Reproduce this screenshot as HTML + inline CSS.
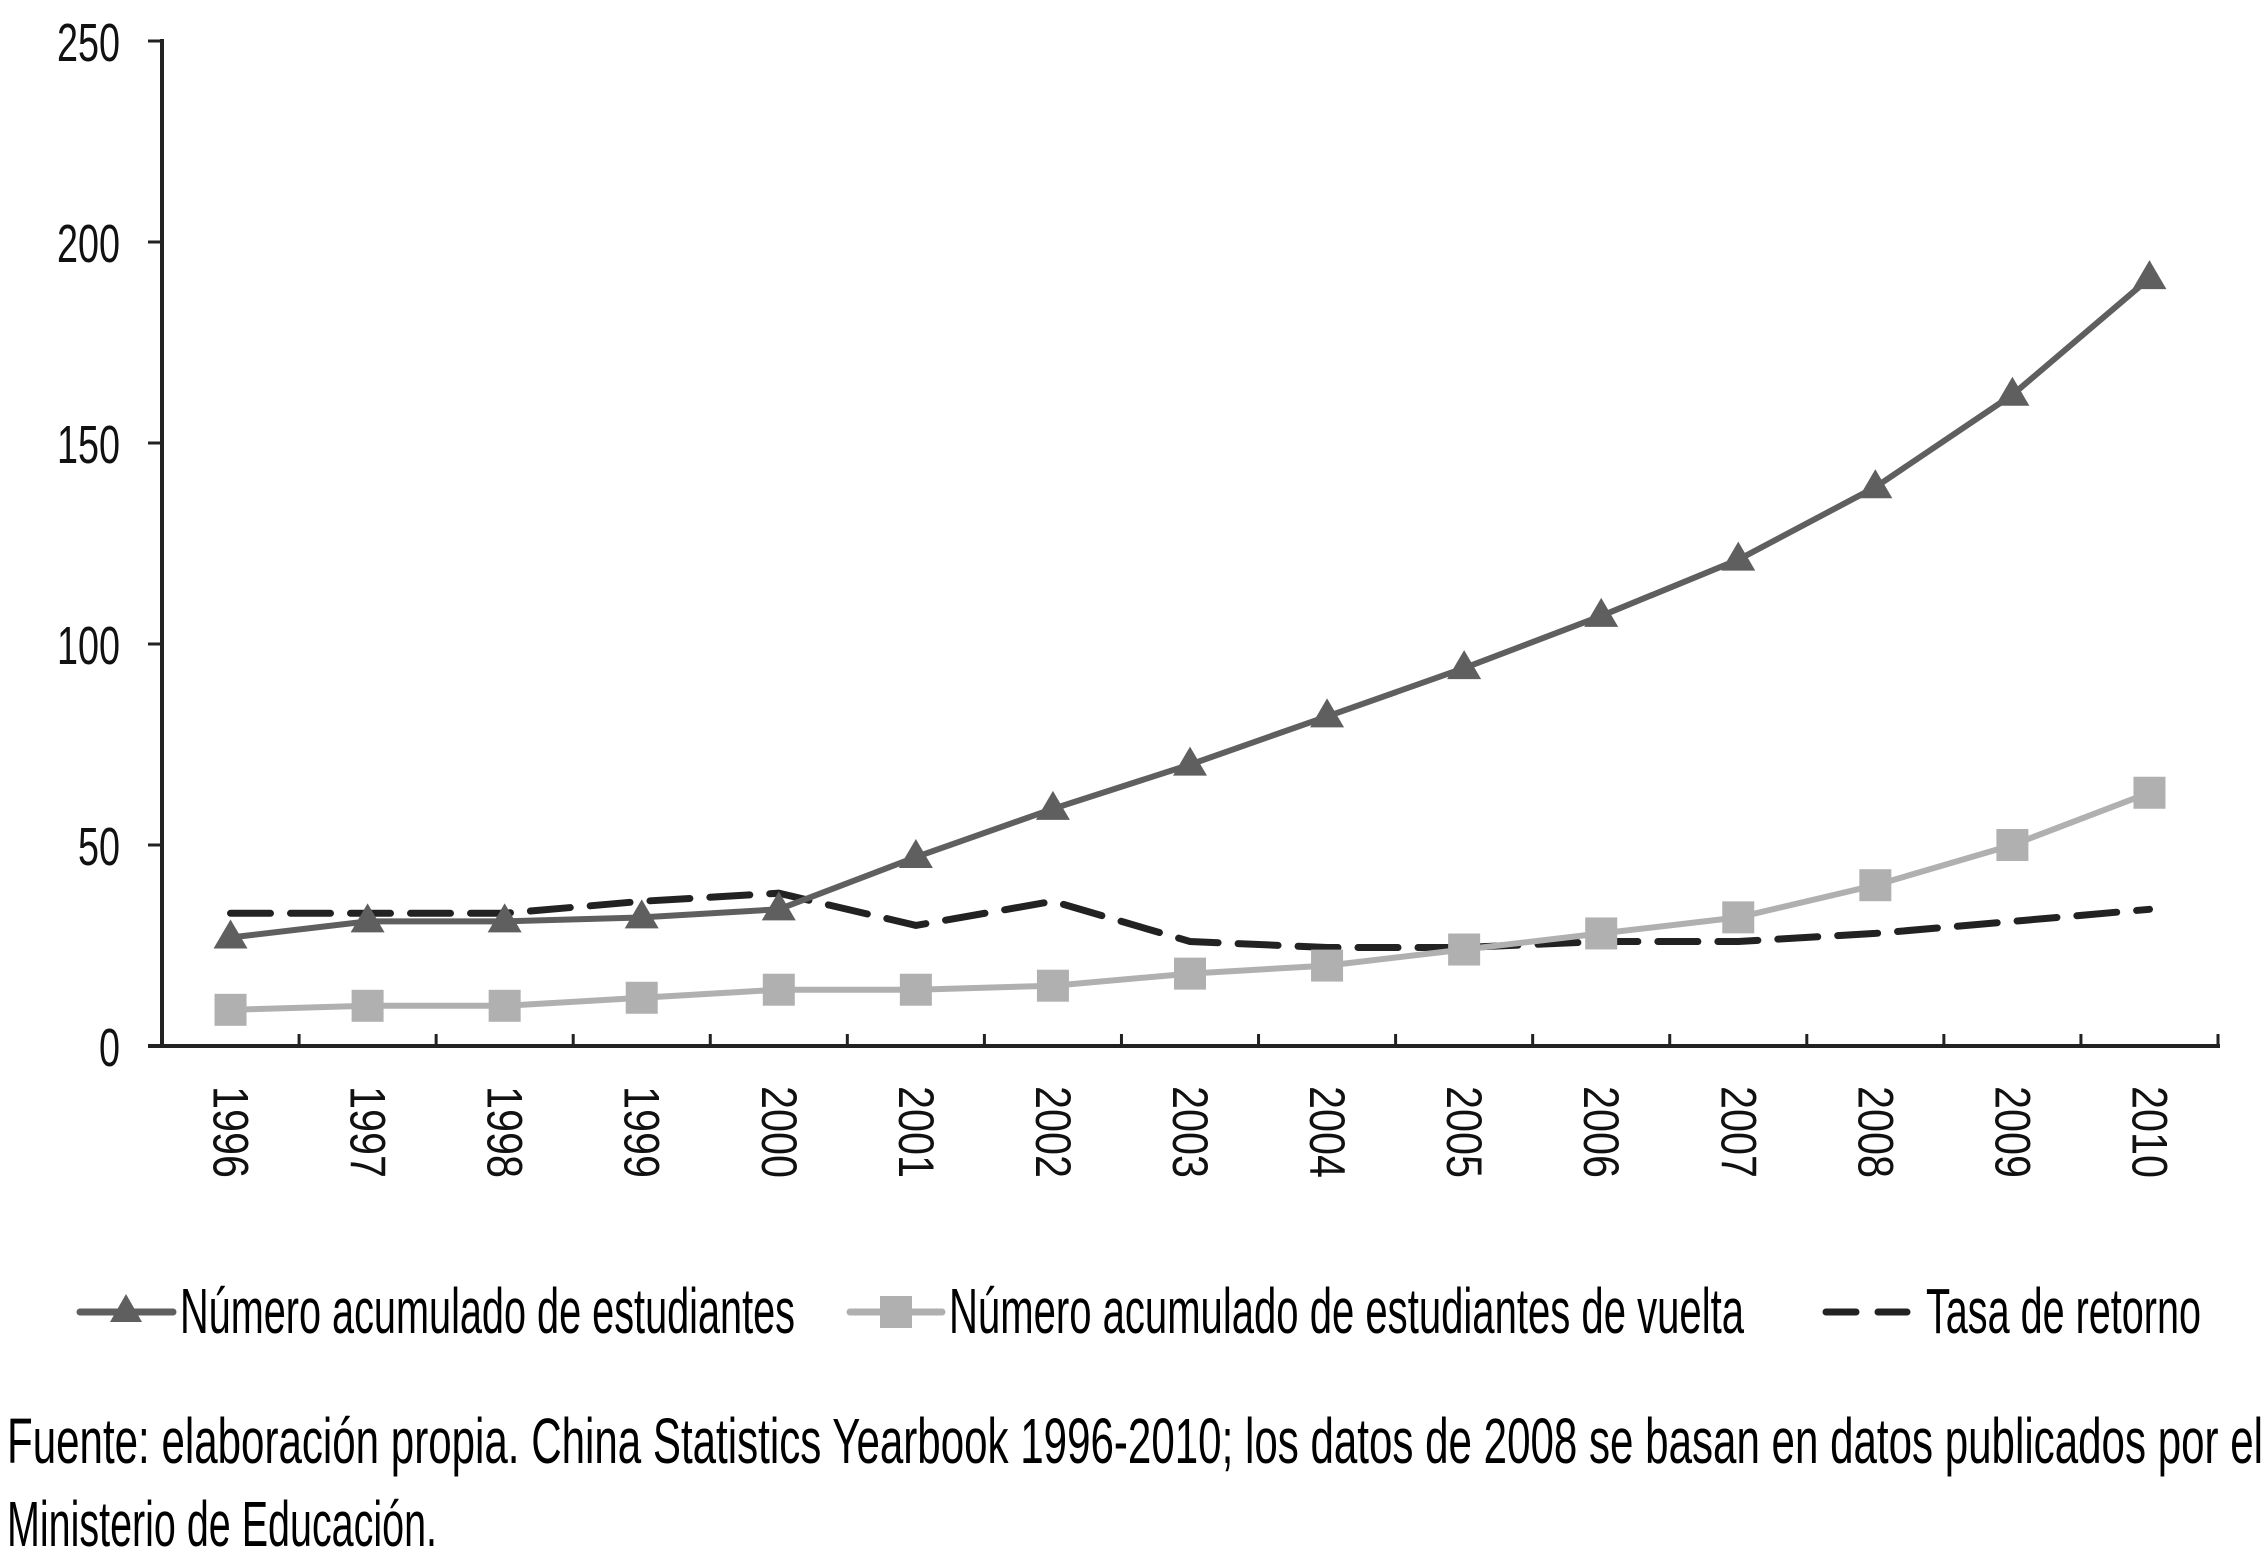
<!DOCTYPE html>
<html><head><meta charset="utf-8"><style>
html,body{margin:0;padding:0;background:#fff;}
svg{display:block;font-family:"Liberation Sans",sans-serif;}
</style></head><body>
<svg id="chart" width="2266" height="1551" viewBox="0 0 2266 1551" xmlns="http://www.w3.org/2000/svg">
<g id="axes"></g>
<g id="series"></g>
<g id="legend">
  <line x1="80" y1="1312" x2="173" y2="1312" stroke="#5f5f5f" stroke-width="7" stroke-linecap="round"/>
  <polygon points="126,1294 142,1322 110,1322" fill="#5f5f5f"/>
  <text x="180" y="1333" font-size="64" textLength="615" lengthAdjust="spacingAndGlyphs">Número acumulado de estudiantes</text>
  <line x1="850" y1="1312" x2="942" y2="1312" stroke="#b0b0b0" stroke-width="7" stroke-linecap="round"/>
  <rect x="880" y="1296" width="32" height="32" fill="#b0b0b0"/>
  <text x="949" y="1333" font-size="64" textLength="795" lengthAdjust="spacingAndGlyphs">Número acumulado de estudiantes de vuelta</text>
  <line x1="1826" y1="1312" x2="1907" y2="1312" stroke="#222" stroke-width="7" stroke-linecap="round" stroke-dasharray="30 22"/>
  <text x="1926" y="1333" font-size="64" textLength="275" lengthAdjust="spacingAndGlyphs">Tasa de retorno</text>
</g>
<text x="7" y="1463" font-size="64" textLength="2256" lengthAdjust="spacingAndGlyphs">Fuente: elaboración propia. China Statistics Yearbook 1996-2010; los datos de 2008 se basan en datos publicados por el</text>
<text x="7" y="1546" font-size="64" textLength="430" lengthAdjust="spacingAndGlyphs">Ministerio de Educación.</text>
</svg>
<script>
const years = ["1996","1997","1998","1999","2000","2001","2002","2003","2004","2005","2006","2007","2008","2009","2010"];
const students = [27,31,31,32,34,47,59,70,82,94,107,121,139,162,191];
const returned = [9,10,10,12,14,14,15,18,20,24,28,32,40,50,63];
const returnRate = [33,33,33,36,38,30,36,26,24.5,24.5,26,26,28,31,34];
const yTicks = [0,50,100,150,200,250];

const NS = "http://www.w3.org/2000/svg";
const X0 = 162, X1 = 2218, Y0 = 1046, YTOP = 41, YMAX = 250;
const band = (X1 - X0) / years.length;
function xS(i){ return X0 + band * (i + 0.5); }
function yS(v){ return Y0 - (v / YMAX) * (Y0 - YTOP); }
function mk(tag, attrs, parent){
  const el = document.createElementNS(NS, tag);
  for (const k in attrs) el.setAttribute(k, attrs[k]);
  parent.appendChild(el);
  return el;
}
const axes = document.getElementById('axes');
const series = document.getElementById('series');

let el = mk('line', {x1:X0, y1:YTOP-2, x2:X0, y2:Y0+2, stroke:'#222', 'stroke-width':4}, axes);


el = mk('line', {x1:X0-14, y1:Y0, x2:X1+2, y2:Y0, stroke:'#222', 'stroke-width':4}, axes);



yTicks.forEach(v => {
  const y = yS(v);
  let t = mk('line', {x1:X0-14, y1:y, x2:X0, y2:y, stroke:'#222', 'stroke-width':3}, axes);
  
  
  const s = String(v);
  let lab = mk('text', {x:120, y:y+20, 'font-size':54, 'text-anchor':'end', textLength: s.length*21, lengthAdjust:'spacingAndGlyphs', fill:'#111'}, axes);
  lab.textContent = s;
  
  
});
for (let i = 1; i <= years.length; i++){
  const x = X0 + band * i;
  let t = mk('line', {x1:x, y1:Y0-12, x2:x, y2:Y0, stroke:'#222', 'stroke-width':3}, axes);
  
  
}
years.forEach((yr, i) => {
  const x = xS(i) - 17, y = 1086;
  let lab = mk('text', {x:x, y:y, 'font-size':50, transform:`rotate(90 ${x} ${y})`, textLength:92, lengthAdjust:'spacingAndGlyphs', fill:'#111'}, axes);
  lab.textContent = yr;
  
  
});

function pts(arr){ return arr.map((v,i) => xS(i).toFixed(1)+','+yS(v).toFixed(1)).join(' '); }

el = mk('polyline', {points:pts(returnRate), fill:'none', stroke:'#222', 'stroke-width':7, 'stroke-dasharray':'40 20', 'stroke-linecap':'round'}, series);



el = mk('polyline', {points:pts(returned), fill:'none', stroke:'#b0b0b0', 'stroke-width':6}, series);


returned.forEach((v,i) => {
  let r = mk('rect', {x:xS(i)-16, y:yS(v)-16, width:32, height:32, fill:'#b0b0b0'}, series);
  
  
});

el = mk('polyline', {points:pts(students), fill:'none', stroke:'#5f5f5f', 'stroke-width':6}, series);


students.forEach((v,i) => {
  const x = xS(i), y = yS(v);
  let p = mk('polygon', {points:`${x},${y-18} ${x+17},${y+11} ${x-17},${y+11}`, fill:'#5f5f5f'}, series);
  
  
});
</script>
</body></html>
